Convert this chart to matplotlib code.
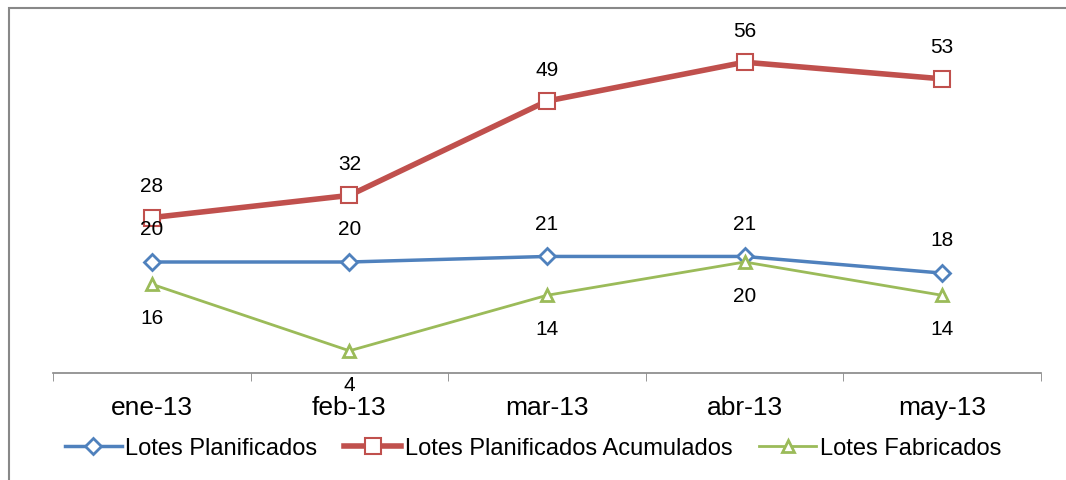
import numpy as np
import matplotlib.pyplot as plt
from matplotlib.patches import Rectangle

# Datos
meses = ['ene-13', 'feb-13', 'mar-13', 'abr-13', 'may-13']
planificados = [20, 20, 21, 21, 18]
acumulados = [28, 32, 49, 56, 53]
fabricados = [16, 4, 14, 20, 14]

azul = '#4F81BD'
rojo = '#C0504D'
verde = '#9BBB59'

plt.rcParams['font.family'] = ['Liberation Sans', 'DejaVu Sans']

fig = plt.figure(figsize=(10.66, 4.81), dpi=100)
ax = fig.add_axes([53/1066, (481-374)/481, 988/1066, 333/481])

# marco del grafico
fig.patches.append(Rectangle((9/1066, -0.1), 1.5, (481-9)/481 + 0.1, transform=fig.transFigure,
                             fill=False, edgecolor='#888888', lw=1.5))

x = np.arange(len(meses))
ax.plot(x, planificados, color=azul, lw=2.5, marker='D', ms=8, mfc='white', mec=azul, mew=2,
        label='Lotes Planificados', zorder=3)
ax.plot(x, acumulados, color=rojo, lw=4, marker='s', ms=12, mfc='white', mec=rojo, mew=1.5,
        label='Lotes Planificados Acumulados', zorder=3)
ax.plot(x, fabricados, color=verde, lw=2, marker='^', ms=9, mfc='white', mec=verde, mew=2,
        label='Lotes Fabricados', zorder=3)

for i in x:
    ax.annotate(str(planificados[i]), (i, planificados[i]), xytext=(0, 24), textcoords='offset points',
                ha='center', va='center', fontsize=15)
    ax.annotate(str(acumulados[i]), (i, acumulados[i]), xytext=(0, 23), textcoords='offset points',
                ha='center', va='center', fontsize=15)
    ax.annotate(str(fabricados[i]), (i, fabricados[i]), xytext=(0, -24), textcoords='offset points',
                ha='center', va='center', fontsize=15)

ax.set_xlim(-0.5, len(meses) - 0.5)
ax.set_ylim(0, 60)
ax.set_xticks(x)
ax.set_xticklabels(meses, fontsize=19)
ax.set_xticks(np.arange(-0.5, len(meses)), minor=True)
ax.tick_params(axis='x', which='major', length=0, pad=16)
ax.tick_params(axis='x', which='minor', length=6, color='#868686')
ax.set_yticks([])
for s in ['top', 'right', 'left']:
    ax.spines[s].set_visible(False)
ax.spines['bottom'].set_color('#868686')
ax.spines['bottom'].set_linewidth(1.2)

ax.legend(loc='center', bbox_to_anchor=(0.5, (481-449)/481), bbox_transform=fig.transFigure,
          ncol=3, frameon=False, fontsize=17, handlelength=2.4, handletextpad=0.15, columnspacing=1.15)

fig.savefig('out.png', dpi=100)
